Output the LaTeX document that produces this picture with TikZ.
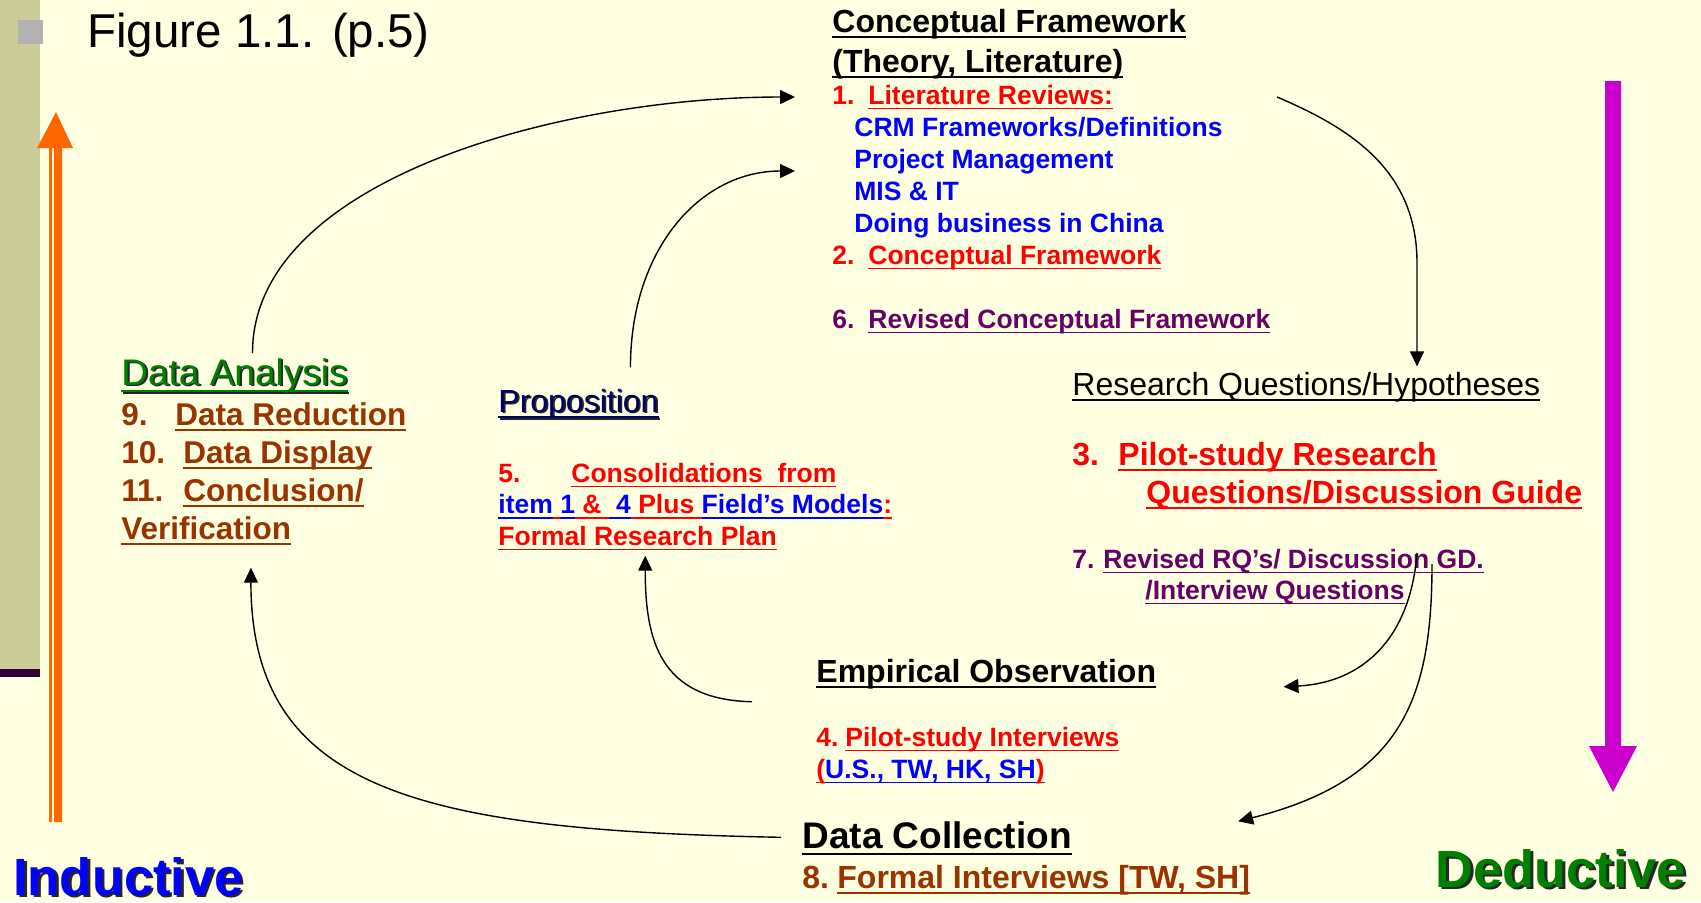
\documentclass[tikz,border=0pt]{standalone}
\usepackage{fontspec}
\setmainfont{Liberation Sans}
\usetikzlibrary{arrows.meta}
\definecolor{bgyel}{RGB}{255,255,225}
\definecolor{khaki}{RGB}{204,204,153}
\definecolor{barpurple}{RGB}{51,0,51}
\definecolor{bulgrey}{RGB}{178,178,178}
\definecolor{arrorange}{RGB}{255,102,0}
\definecolor{arrmag}{RGB}{204,0,204}
\definecolor{txtred}{RGB}{255,0,0}
\definecolor{txtblue}{RGB}{0,0,255}
\definecolor{txtpurple}{RGB}{102,0,102}
\definecolor{txtbrown}{RGB}{153,51,0}
\definecolor{txtgreen}{RGB}{0,128,0}
\definecolor{txtnavy}{RGB}{0,0,102}
\begin{document}
\begin{tikzpicture}[x=0.5pt,y=-0.5pt,>={Triangle[length=7.5pt,width=7pt]},
		txt/.style={anchor=base west,inner sep=0pt},
		txtml/.style={txt,align=left},
		conn/.style={->,line width=0.7pt}]
			\def\undl#1{\setbox0\hbox{#1}\rlap{\rule[-0.2em]{\wd0}{0.065em}}\box0}
			\def\cu#1#2{{\color{#1}\undl{#2}}}
			\def\shd#1#2{\rlap{\kern.05em\raisebox{-.05em}{\color{black!85}#2}}{\color{#1}#2}}
			\def\fs#1#2{\fontsize{#1}{#2}\selectfont}
			\useasboundingbox (0,0) rectangle (1701,902);
			\fill[bgyel] (0,0) rectangle (1701,902);
			\fill[khaki] (0,0) rectangle (40,669);
			\fill[barpurple] (0,669) rectangle (40,677);
			\fill[bulgrey] (18,20) rectangle (43,44);
			\fill[arrorange] (56,112) -- (73,148) -- (37,148) -- cycle
				(49,148) rectangle (52,822) (54,148) rectangle (62,822);
			\fill[arrmag] (1605,81) rectangle (1621,746)
				(1589,746) -- (1637,746) -- (1613,792) -- cycle;
			% multi-line nodes sit on the baseline of their last line
			\node[txt,font=\fs{23.75}{28}] (title) at (87,47) {Figure 1.1. (p.5)};
			\node[txtml,font=\bfseries\fs{16}{20}] (cf) at (832,72) {\undl{Conceptual Framework}\\\undl{(Theory, Literature)}};
			\node[txtml,font=\bfseries\fs{13.25}{16}] (lit) at (832,264) {{\color{txtred}\makebox[18pt][l]{1.}\undl{Literature Reviews:}}\\
				\hspace*{11pt}{\color{txtblue}CRM Frameworks/Definitions}\\
				\hspace*{11pt}{\color{txtblue}Project Management}\\
				\hspace*{11pt}{\color{txtblue}MIS \& IT}\\
				\hspace*{11pt}{\color{txtblue}Doing business in China}\\
				{\color{txtred}\makebox[18pt][l]{2.}\undl{Conceptual Framework}}};
			\node[txt,font=\bfseries\fs{13.25}{16},text=txtpurple] (rcf) at (832,328) {\makebox[18pt][l]{6.}\undl{Revised Conceptual Framework}};
			\node[txt,font=\fs{16}{19}] (rq) at (1072,395) {\undl{Research Questions/Hypotheses}};
			\node[txtml,font=\bfseries\fs{16}{19},text=txtred] (prq) at (1072,503) {\makebox[23pt][l]{3.}\undl{Pilot-study Research}\\\hspace*{37pt}\undl{Questions/Discussion Guide}};
			\node[txtml,font=\bfseries\fs{13.25}{15.5},text=txtpurple] (rrq) at (1072,599) {\makebox[15.5pt][l]{7.}\undl{Revised RQ’s/ Discussion GD.}\\\hspace*{36.5pt}\undl{/Interview Questions}};
			\node[txt,font=\bfseries\fs{16}{19}] (emp) at (816,682) {\undl{Empirical Observation}};
			\node[txtml,font=\bfseries\fs{13.25}{16},text=txtred] (pint) at (816,778) {\makebox[14.5pt][l]{4.}\undl{Pilot-study Interviews}\\\undl{(}\cu{txtblue}{U.S., TW, HK, SH}\undl{)}};
			\node[txt,font=\bfseries\fs{18.5}{22}] (dcol) at (802,848) {\undl{Data Collection}};
			\node[txt,font=\bfseries\fs{16}{19},text=txtbrown] (fint) at (802,888) {\makebox[17.5pt][l]{8.}\undl{Formal Interviews [TW, SH]}};
			\node[txt,font=\fs{18.5}{22}] (dana) at (121,385) {\shd{txtgreen}{\undl{Data Analysis}}};
			\node[txtml,font=\bfseries\fs{15.75}{19},text=txtbrown] (alist) at (121,539) {\makebox[27pt][l]{9.}\undl{Data Reduction}\\
				\makebox[31pt][l]{10.}\undl{Data Display}\\
				\makebox[31pt][l]{11.}\undl{Conclusion/}\\
				\undl{Verification}};
			\node[txt,font=\fs{16}{19}] (prop) at (498,412) {\shd{txtnavy}{\undl{Proposition}}};
			\node[txtml,font=\bfseries\fs{13.25}{15.75},text=txtred] (cons) at (498,545) {\makebox[36.5pt][l]{5.}\undl{Consolidations\ \ from}\\
				\cu{txtblue}{item}\undl{\ }\cu{txtblue}{1}\undl{\ \&\ }\cu{txtblue}{\ 4}\undl{\ Plus\ }\cu{txtblue}{Field’s Models}\undl{:}\\
				\undl{Formal Research Plan}};
			\node[txt,font=\bfseries\fs{26.2}{30}] (ind) at (13,895) {\shd{txtblue}{Inductive}};
			\node[txt,font=\bfseries\fs{26.2}{30}] (ded) at (1435,887) {\shd{txtgreen}{Deductive}};
			\coordinate (cfa) at (795,97);
			\coordinate (cfb) at (795,171);
			\coordinate (cfc) at (1277,97);
			\coordinate (rrqa) at (1417,553);
			\coordinate (rrqb) at (1432,564);
			\draw[conn] ([shift={(18,-5)}]dana.north) .. controls +(0,-173) and +(-235,0) .. (cfa);
			\draw[conn] ([shift={(52,-21)}]prop.north) .. controls +(0,-118) and +(-95,0) .. (cfb);
			\draw[conn] (cfc) .. controls +(73,31) and +(0,-93) .. ++(140,166) coordinate (cbend) -- ([yshift=2.5pt]cbend |- rq.north);
			\draw[conn] (rrqa) .. controls +(-7,87) and +(78,-4) .. ([shift={(127,13)}]emp.east);
			\draw[conn] (rrqb) .. controls +(0,136) and +(163,-41) .. ([shift={(166,-17)}]dcol.east);
			\draw[conn] ([shift={(-64,28)}]emp.west) .. controls +(-92,-2) and +(0,85) .. ([shift={(-50,5)}]cons.south);
			\draw[conn] ([shift={(-21,-1)}]dcol.west) .. controls +(-361,-7) and +(0,223) .. ([shift={(-13,22)}]alist.south);
\end{tikzpicture}
\end{document}
